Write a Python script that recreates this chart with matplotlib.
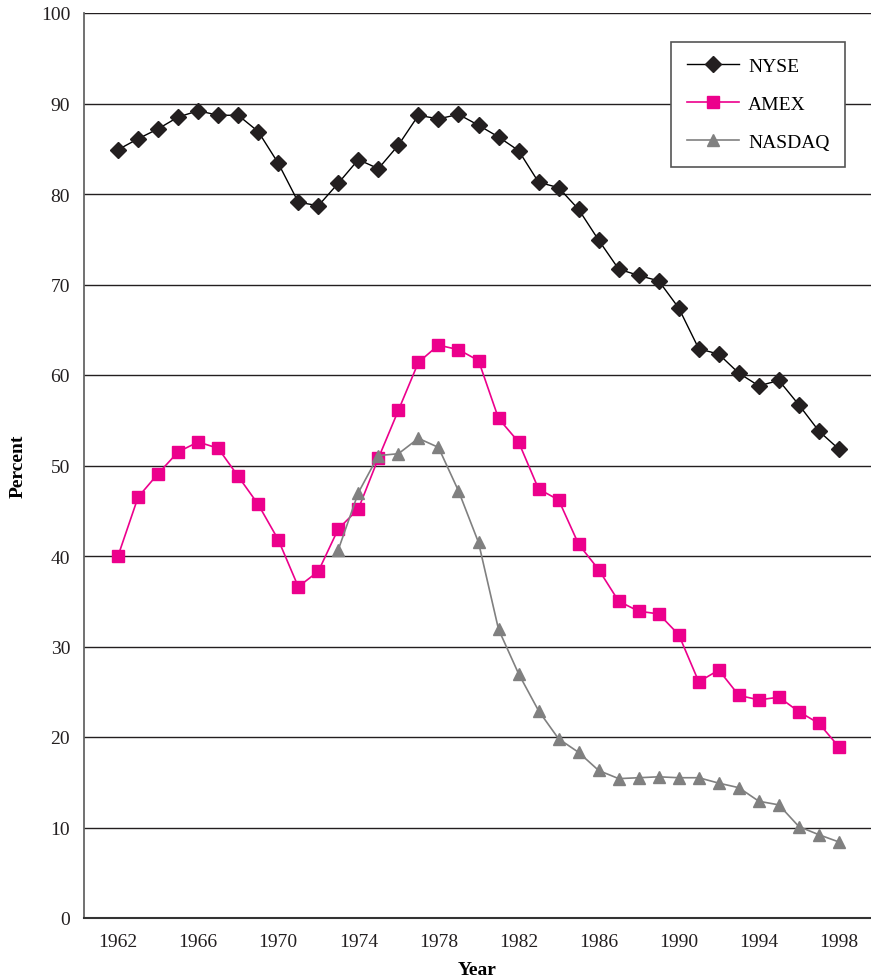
import numpy as np
import matplotlib.pyplot as plt

plt.rcParams['font.family'] = ['Liberation Serif', 'DejaVu Serif']

years = np.arange(1962, 1999)
nyse = [84.9, 86.1, 87.2, 88.5, 89.2, 88.7, 88.7, 86.9, 83.4, 79.1,
        78.7, 81.2, 83.8, 82.8, 85.4, 88.7, 88.3, 88.8, 87.6, 86.3,
        84.8, 81.3, 80.7, 78.3, 74.9, 71.7, 71.0, 70.4, 67.4, 62.9,
        62.3, 60.2, 58.8, 59.4, 56.7, 53.8, 51.8]
amex = [40.0, 46.5, 49.1, 51.5, 52.6, 51.9, 48.8, 45.7, 41.8, 36.6,
        38.3, 43.0, 45.2, 50.8, 56.1, 61.4, 63.3, 62.8, 61.6, 55.2,
        52.6, 47.4, 46.2, 41.3, 38.5, 35.0, 33.9, 33.6, 31.3, 26.1,
        27.4, 24.6, 24.1, 24.4, 22.8, 21.5, 18.9]
nasdaq_years = np.arange(1973, 1999)
nasdaq = [40.7, 47.0, 51.1, 51.3, 53.0, 52.0, 47.2, 41.5, 31.9, 27.0,
          22.9, 19.8, 18.3, 16.3, 15.4, 15.5, 15.6, 15.5, 15.5, 14.9,
          14.4, 12.9, 12.5, 10.1, 9.2, 8.4]

fig = plt.figure(figsize=(8.71, 9.79), dpi=100)
ax = fig.add_axes([84/871, 60/979, 787/871, 905/979])

ax.plot(years, nyse, color='black', lw=1, marker='D', markersize=8,
        markerfacecolor='#231f20', markeredgecolor='#231f20', label='NYSE', zorder=3)
ax.plot(years, amex, color='#ec008c', lw=1.2, marker='s', markersize=8,
        markerfacecolor='#ec008c', markeredgecolor='#ec008c', label='AMEX', zorder=3)
ax.plot(nasdaq_years, nasdaq, color='#808080', lw=1.2, marker='^', markersize=8,
        markerfacecolor='#808080', markeredgecolor='#808080', label='NASDAQ', zorder=3)

ax.set_xlim(1960.3, 1999.6)
ax.set_ylim(0, 100)
ax.set_yticks(np.arange(0, 101, 10))
ax.set_xticks(np.arange(1962, 1999, 4))
ax.grid(axis='y', color='#231f20', lw=1)
ax.set_axisbelow(True)
ax.tick_params(length=0, labelsize=14, colors='#231f20', pad=11)
ax.tick_params(axis='y', pad=10)
for s in ['right', 'top']:
    ax.spines[s].set_visible(False)
ax.spines['left'].set_color('#666666')
ax.spines['left'].set_linewidth(1.3)
ax.spines['bottom'].set_color('#333333')
ax.spines['bottom'].set_linewidth(1.5)

ax.set_ylabel('Percent', fontsize=14, fontweight='bold', labelpad=10)
ax.set_xlabel('Year', fontsize=14, fontweight='bold', labelpad=8)

leg = ax.legend(loc='upper right', bbox_to_anchor=(0.967, 0.968), borderaxespad=0,
                fontsize=14, frameon=True, fancybox=False, edgecolor='#555555',
                borderpad=0.8, labelspacing=1.05, handlelength=2.7, handletextpad=0.45)
leg.get_frame().set_linewidth(1.2)
leg.get_frame().set_alpha(1)

fig.savefig('out.png', dpi=100)
